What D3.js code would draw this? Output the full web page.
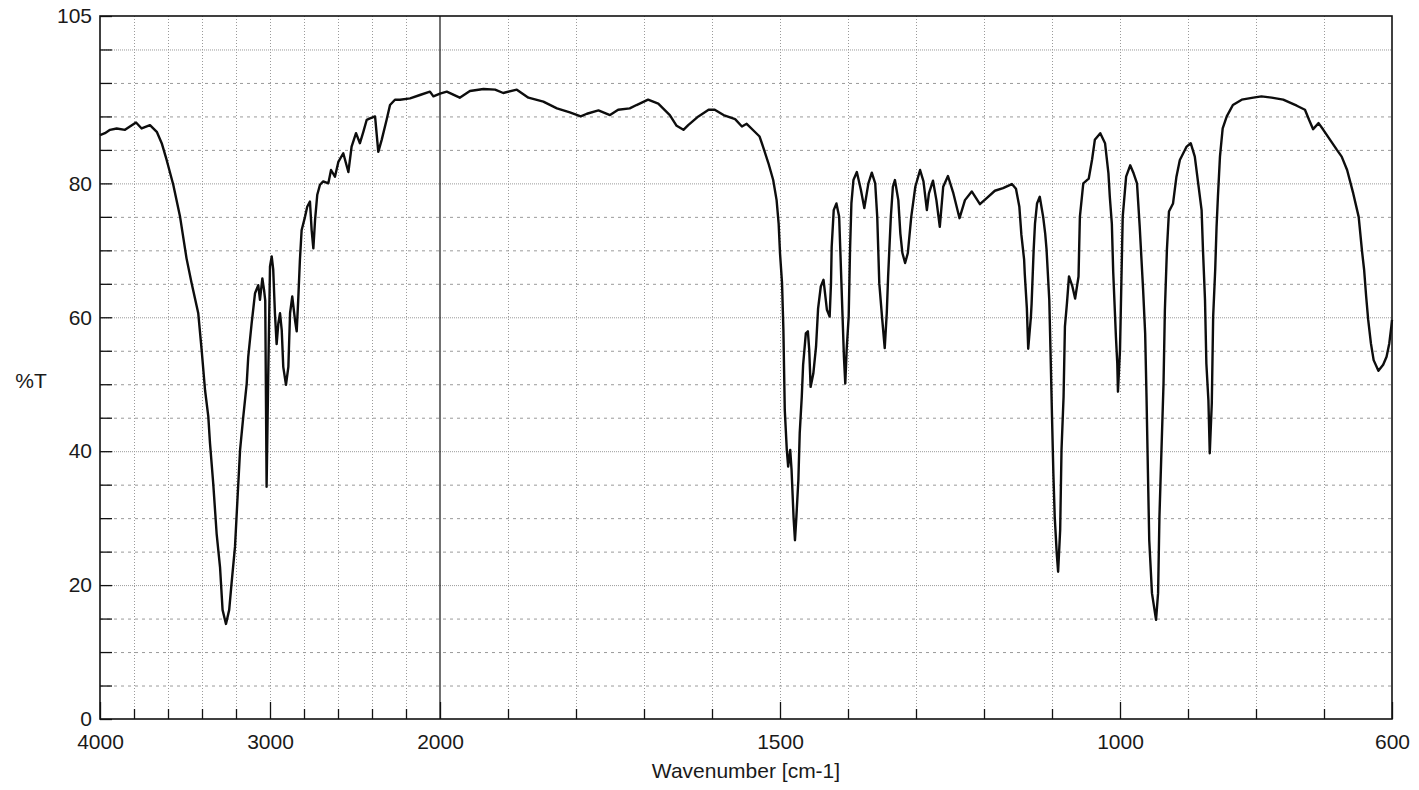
<!DOCTYPE html>
<html>
<head>
<meta charset="utf-8">
<script src="https://cdn.jsdelivr.net/npm/d3@7"></script>
<style>
  html, body { margin: 0; padding: 0; background: #fff; }
  svg { display: block; }
  text { font-family: "Liberation Sans", Arial, sans-serif; fill: #1a1a1a; }
</style>
</head>
<body>
<svg id="chart" width="1419" height="790"></svg>
<script>
// IR transmission spectrum: wavenumber (cm-1) and %T
const wavenumber = [
  4000, 3971, 3941, 3902, 3853, 3824, 3788, 3755, 3706, 3666, 3637, 3608, 3569, 3529,
  3491, 3461, 3422, 3402, 3382, 3363, 3353, 3334, 3314, 3294, 3279, 3259, 3240, 3226,
  3206, 3192, 3176, 3157, 3137, 3128, 3108, 3088, 3069, 3059, 3045, 3035, 3028, 3020,
  3010, 3000, 2990, 2981, 2971, 2961, 2951, 2941, 2931, 2922, 2906, 2892, 2882, 2869,
  2853, 2843, 2834, 2824, 2814, 2794, 2781, 2765, 2755, 2745, 2735, 2722, 2706, 2687,
  2657, 2641, 2618, 2598, 2569, 2539, 2520, 2494, 2471, 2451, 2431, 2412, 2382, 2363,
  2343, 2314, 2294, 2265, 2235, 2176, 2118, 2059, 2039, 2000,
  1990, 1971, 1956, 1936, 1919, 1907, 1887, 1870, 1848, 1828, 1809, 1793, 1784, 1767,
  1750, 1738, 1721, 1711, 1694, 1679, 1662, 1652, 1642, 1635, 1620, 1605, 1596, 1583,
  1566, 1556, 1549, 1539, 1530, 1525, 1517, 1510, 1505, 1502, 1500, 1497, 1495, 1493,
  1490, 1488, 1485, 1483, 1480, 1478, 1476, 1473, 1471, 1468, 1466, 1462, 1459, 1457,
  1455, 1451, 1447, 1444, 1440, 1436, 1431, 1427, 1425, 1424, 1421, 1417, 1413, 1411,
  1408, 1406, 1404, 1402, 1399, 1397, 1395, 1392, 1387, 1381, 1376, 1370, 1365, 1360,
  1357, 1354, 1350, 1346, 1343, 1341, 1337, 1334, 1331, 1326, 1323, 1320, 1316, 1312,
  1307, 1301, 1294, 1289, 1284, 1281, 1275, 1270, 1265, 1260, 1253, 1245, 1236, 1228,
  1218, 1206, 1196, 1184, 1172, 1159, 1153, 1148, 1145, 1141, 1140, 1137, 1135, 1131,
  1130, 1127, 1125, 1122, 1118, 1113, 1110, 1108, 1104, 1102, 1100, 1098, 1096, 1093,
  1091, 1088, 1086, 1083, 1081, 1078, 1075, 1070, 1066, 1061, 1059, 1054, 1046, 1041,
  1037, 1029, 1022, 1017, 1015, 1012, 1010, 1006, 1004, 1003, 1000, 998, 996, 991,
  985, 980, 975, 971, 966, 963, 961, 959, 957, 953, 947, 944, 942, 939,
  936, 934, 931, 928, 922, 917, 912, 902, 896, 890, 885, 880, 878, 875,
  873, 870, 868, 865, 863, 860, 858, 856, 853, 849, 843, 834, 821, 804,
  792, 777, 760, 740, 728, 722, 716, 708, 701, 691, 681, 674, 666, 657,
  649, 644, 641, 638, 635, 631, 627, 620, 613, 608, 604, 601, 600
];
const transmittance = [
  87.2, 87.5, 88.0, 88.2, 88.0, 88.5, 89.1, 88.2, 88.7, 87.7, 86.0, 83.5, 79.8, 75.0,
  68.8, 65.1, 60.6, 55.1, 49.1, 45.2, 41.2, 35.2, 27.7, 22.7, 16.3, 14.2, 16.3, 20.3,
  25.7, 32.5, 40.2, 45.2, 50.1, 54.1, 59.1, 63.6, 64.8, 62.6, 65.8, 64.1, 62.5, 34.7,
  52.0, 67.6, 69.1, 67.1, 60.6, 56.0, 59.1, 60.6, 58.1, 52.6, 49.9, 52.6, 60.6, 63.1,
  59.6, 57.9, 62.6, 68.6, 73.0, 75.0, 76.5, 77.3, 73.0, 70.3, 74.5, 78.3, 79.8, 80.3,
  80.0, 82.0, 81.0, 83.2, 84.5, 81.7, 85.5, 87.5, 86.0, 87.7, 89.5, 89.7, 90.0, 84.7,
  86.5, 89.5, 91.7, 92.5, 92.5, 92.7, 93.2, 93.7, 93.0, 93.4,
  93.7, 92.8, 93.8, 94.1, 94.0, 93.5, 94.0, 92.8, 92.2, 91.2, 90.6, 90.0, 90.4, 90.9,
  90.2, 91.0, 91.2, 91.7, 92.5, 91.9, 90.2, 88.6, 88.0, 88.7, 90.0, 91.0, 91.0, 90.2,
  89.6, 88.5, 88.9, 87.9, 87.0, 85.5, 83.0, 80.5, 77.5, 74.0, 69.6, 65.1, 58.1, 46.2,
  40.2, 37.7, 40.2, 37.2, 30.0, 26.7, 30.0, 35.7, 42.7, 48.1, 52.9, 57.6, 57.9, 55.1,
  49.6, 51.6, 55.6, 61.3, 64.6, 65.6, 61.1, 60.1, 65.1, 70.5, 76.0, 77.0, 75.0, 69.1,
  60.1, 54.1, 50.1, 55.1, 60.1, 70.1, 77.0, 80.5, 81.7, 79.0, 76.3, 80.0, 81.6, 80.0,
  75.0, 65.1, 60.1, 55.4, 60.6, 66.1, 75.0, 79.5, 80.5, 77.5, 72.5, 69.6, 68.1, 69.6,
  75.0, 79.5, 82.0, 80.3, 76.0, 78.5, 80.4, 77.5, 73.5, 79.5, 81.1, 78.5, 74.8, 77.5,
  78.8, 76.9, 77.8, 78.9, 79.3, 79.9, 79.2, 76.5, 72.3, 68.6, 66.4, 61.4, 55.3, 60.1,
  62.0, 70.0, 74.0, 77.0, 78.0, 75.0, 72.5, 70.1, 62.6, 54.1, 45.2, 36.7, 30.2, 24.7,
  22.0, 28.2, 40.2, 48.1, 58.6, 62.1, 66.1, 64.6, 62.8, 66.1, 75.0, 80.0, 80.7, 83.6,
  86.5, 87.5, 86.0, 81.5, 78.0, 74.0, 66.8, 57.1, 53.1, 48.9, 55.1, 65.1, 75.0, 81.0,
  82.7, 81.5, 80.0, 73.5, 64.1, 57.6, 48.1, 37.2, 26.7, 18.8, 14.8, 18.8, 30.2, 40.2,
  50.1, 61.1, 70.1, 75.8, 77.0, 81.0, 83.5, 85.5, 86.0, 84.0, 80.0, 76.0, 70.1, 62.6,
  53.1, 47.6, 39.7, 47.2, 60.1, 67.1, 73.5, 78.0, 84.0, 88.2, 90.0, 91.7, 92.5, 92.8,
  93.0, 92.8, 92.5, 91.6, 91.0, 89.5, 88.1, 89.0, 88.0, 86.5, 85.0, 84.0, 82.0, 78.5,
  75.0, 69.8, 67.1, 63.1, 59.6, 56.1, 53.6, 52.0, 52.9, 54.1, 56.1, 58.6, 59.6
];

// Axis tick values
const xLabelTicks = [4000, 3000, 2000, 1500, 1000, 600];
const xMinorTicks = [3800, 3600, 3400, 3200, 2800, 2600, 2400, 2200,
                     1900, 1800, 1700, 1600, 1400, 1300, 1200, 1100, 900, 800, 700];
const yLabelTicks = [0, 20, 40, 60, 80, 105];
const yGridValues = d3.range(5, 101, 5);

const svg = d3.select("#chart");
const plot = { left: 100, right: 1392, top: 16, bottom: 719 };

// Split wavenumber axis: 4000-2000 compressed, 2000-600 expanded
const x = d3.scaleLinear()
  .domain([4000, 2000, 600])
  .range([plot.left, 440, plot.right]);
const y = d3.scaleLinear()
  .domain([0, 105])
  .range([plot.bottom, plot.top]);

// Grid
const grid = svg.append("g").attr("class", "grid");
grid.selectAll("line.h")
  .data(yGridValues)
  .join("line")
  .attr("class", "h")
  .attr("x1", plot.left).attr("x2", plot.right)
  .attr("y1", d => y(d) + 0.5).attr("y2", d => y(d) + 0.5)
  .attr("stroke", "#9a9a9a")
  .attr("stroke-width", 1)
  .attr("stroke-dasharray", d => (d % 20 === 0 || d === 100) ? "1,1" : "3,4");

grid.selectAll("line.v")
  .data(xMinorTicks.concat([3000, 1500, 1000]))
  .join("line")
  .attr("class", "v")
  .attr("x1", d => Math.round(x(d)) + 0.5).attr("x2", d => Math.round(x(d)) + 0.5)
  .attr("y1", plot.top).attr("y2", plot.bottom)
  .attr("stroke", "#9a9a9a")
  .attr("stroke-width", 1)
  .attr("stroke-dasharray", "1,2");

// Axes with inward ticks
const yAxis = d3.axisLeft(y)
  .tickValues(yGridValues.concat([0, 105]))
  .tickSize(-12)
  .tickPadding(20)
  .tickFormat(d => yLabelTicks.includes(d) ? String(d) : "");
svg.append("g")
  .attr("transform", `translate(${plot.left},0)`)
  .call(yAxis)
  .call(g => g.select(".domain").remove())
  .call(g => g.selectAll(".tick line").attr("stroke", "#111").attr("stroke-width", 1.3))
  .call(g => g.selectAll(".tick text")
    .attr("x", -8)
    .style("font-family", '"Liberation Sans", Arial, sans-serif')
    .style("font-size", "21px")
    .attr("fill", "#1a1a1a"));

const xAxisMinor = d3.axisBottom(x)
  .tickValues(xMinorTicks)
  .tickSize(-10)
  .tickFormat("");
svg.append("g")
  .attr("transform", `translate(0,${plot.bottom})`)
  .call(xAxisMinor)
  .call(g => g.select(".domain").remove())
  .call(g => g.selectAll(".tick line").attr("stroke", "#111").attr("stroke-width", 1.3));

const xAxisMajor = d3.axisBottom(x)
  .tickValues(xLabelTicks)
  .tickSize(-17)
  .tickPadding(8)
  .tickFormat(d => String(d));
svg.append("g")
  .attr("transform", `translate(0,${plot.bottom})`)
  .call(xAxisMajor)
  .call(g => g.select(".domain").remove())
  .call(g => g.selectAll(".tick line").attr("stroke", "#111").attr("stroke-width", 1.3))
  .call(g => g.selectAll(".tick text")
    .attr("y", 15)
    .style("font-family", '"Liberation Sans", Arial, sans-serif')
    .style("font-size", "21px")
    .attr("fill", "#1a1a1a"));

// Frame and the 2000 cm-1 divider
svg.append("rect")
  .attr("x", plot.left).attr("y", plot.top)
  .attr("width", plot.right - plot.left).attr("height", plot.bottom - plot.top)
  .attr("fill", "none").attr("stroke", "#111").attr("stroke-width", 1.6);
svg.append("line")
  .attr("x1", x(2000)).attr("x2", x(2000))
  .attr("y1", plot.top).attr("y2", plot.bottom)
  .attr("stroke", "#111").attr("stroke-width", 1.2);

// Spectrum trace
const points = wavenumber.map((w, i) => [w, transmittance[i]]);
const line = d3.line()
  .x(d => x(d[0]))
  .y(d => y(d[1]))
  .curve(d3.curveLinear);
svg.append("path")
  .datum(points)
  .attr("d", line)
  .attr("fill", "none")
  .attr("stroke", "#0d0d0d")
  .attr("stroke-width", 2.4)
  .attr("stroke-linejoin", "round");

// Axis titles
svg.append("text")
  .attr("x", 31).attr("y", 388)
  .attr("text-anchor", "middle")
  .style("font-size", "21px")
  .text("%T");
svg.append("text")
  .attr("x", 746).attr("y", 778)
  .attr("text-anchor", "middle")
  .style("font-size", "21px")
  .text("Wavenumber [cm-1]");
</script>
</body>
</html>
